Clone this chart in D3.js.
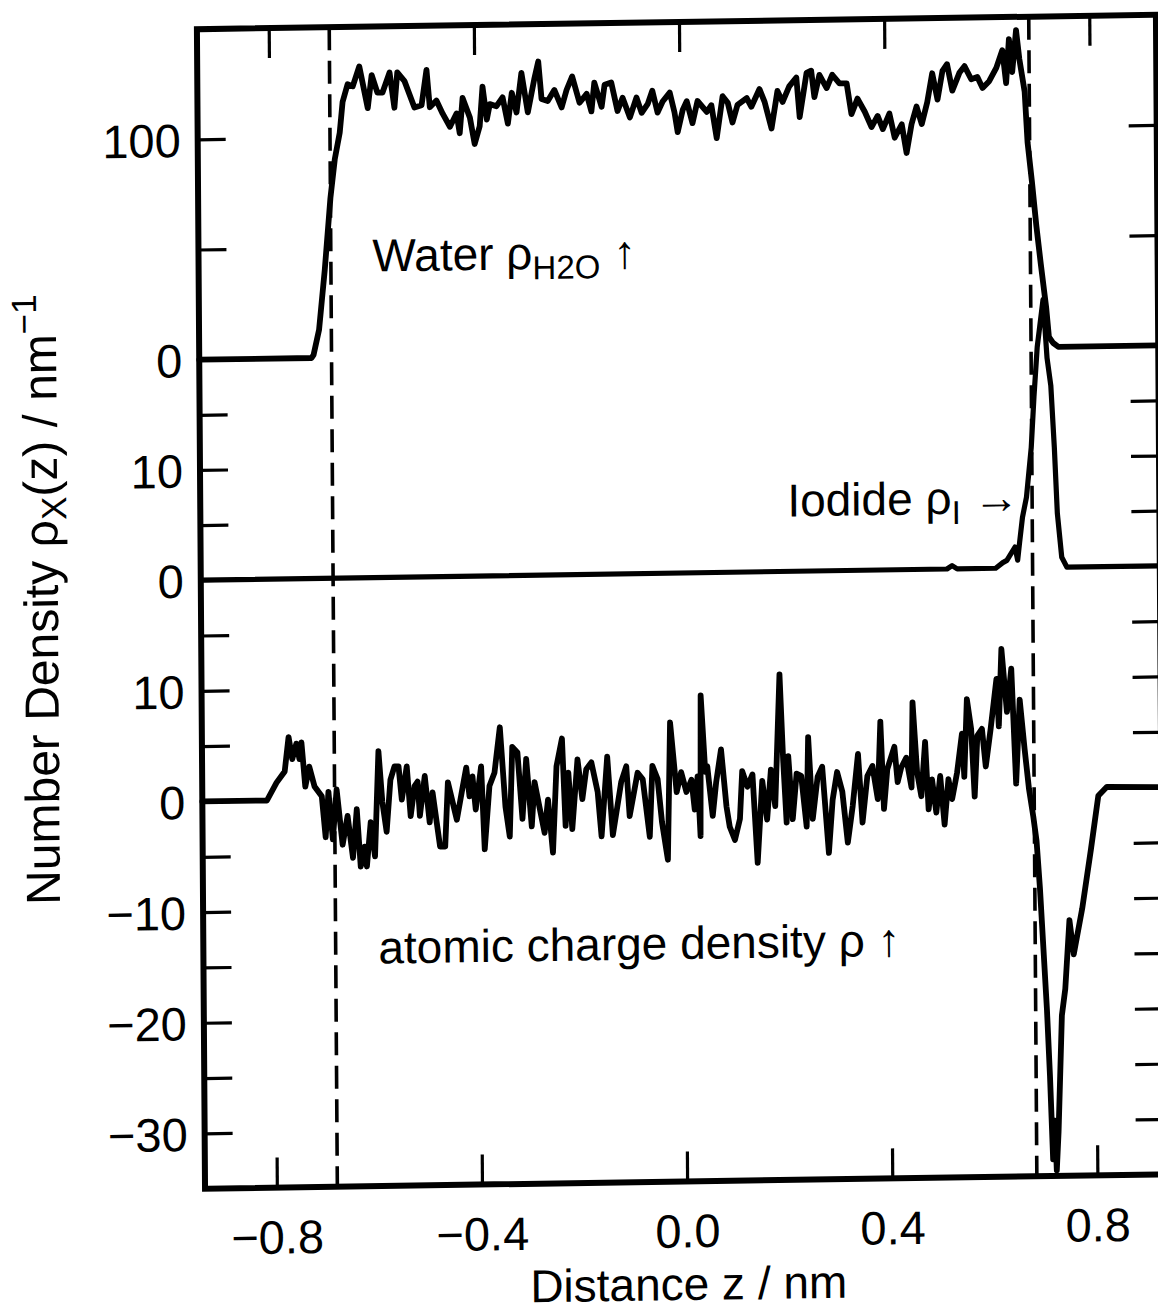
<!DOCTYPE html>
<html>
<head>
<meta charset="utf-8">
<script src="https://cdn.jsdelivr.net/npm/d3@7"></script>
<style>
  body { margin: 0; background: #fff; }
  text { font-family: "Liberation Sans", Arial, Helvetica, sans-serif; fill: #000; }
</style>
</head>
<body>
<div id="chart"></div>
<script>
// profiles, [z (nm), density]
const waterProfile = [
  [-0.94, 0], [-0.721, 0], [-0.717, 1.4], [-0.706, 12.7], [-0.694, 40], [-0.682, 72.5], [-0.673, 90],
  [-0.663, 102], [-0.657, 116], [-0.647, 124], [-0.637, 123], [-0.624, 132], [-0.608, 113], [-0.600, 128],
  [-0.589, 120], [-0.579, 120], [-0.565, 129], [-0.556, 113], [-0.550, 129], [-0.536, 125], [-0.517, 113],
  [-0.503, 114], [-0.493, 130], [-0.487, 113], [-0.474, 116], [-0.462, 110], [-0.448, 104], [-0.435, 110],
  [-0.429, 101], [-0.423, 117], [-0.409, 108], [-0.400, 96], [-0.390, 104], [-0.384, 122], [-0.376, 107],
  [-0.370, 114], [-0.357, 113], [-0.345, 117], [-0.335, 105], [-0.327, 119], [-0.318, 110], [-0.308, 128],
  [-0.296, 110], [-0.283, 125], [-0.275, 133], [-0.269, 116], [-0.257, 115], [-0.244, 120], [-0.230, 112],
  [-0.220, 120], [-0.209, 126], [-0.195, 114], [-0.181, 118], [-0.172, 110], [-0.166, 123], [-0.152, 112],
  [-0.146, 122], [-0.133, 123], [-0.121, 110], [-0.111, 116], [-0.097, 107], [-0.084, 116], [-0.074, 109],
  [-0.062, 113], [-0.053, 119], [-0.043, 109], [-0.033, 114], [-0.019, 118], [-0.010, 109], [-0.004, 100],
  [0.006, 110], [0.014, 114], [0.025, 104], [0.035, 114], [0.053, 109], [0.062, 112], [0.072, 97],
  [0.084, 116], [0.094, 113], [0.103, 104], [0.113, 112], [0.131, 115], [0.140, 111], [0.156, 119],
  [0.166, 113], [0.179, 101], [0.191, 118], [0.201, 113], [0.214, 120], [0.228, 124], [0.234, 106],
  [0.248, 126], [0.257, 127], [0.263, 115], [0.273, 125], [0.287, 119], [0.298, 125], [0.312, 121],
  [0.326, 121], [0.335, 107], [0.347, 114], [0.361, 108], [0.374, 101], [0.386, 106], [0.396, 100],
  [0.409, 107], [0.419, 96], [0.433, 102], [0.442, 89], [0.452, 102], [0.462, 110], [0.472, 102],
  [0.483, 112], [0.493, 125], [0.503, 113], [0.513, 126], [0.522, 129], [0.532, 117], [0.546, 125],
  [0.556, 128], [0.569, 122], [0.581, 123], [0.591, 118], [0.604, 121], [0.618, 127], [0.630, 135],
  [0.637, 120], [0.643, 140], [0.649, 125], [0.657, 144], [0.663, 131], [0.673, 116], [0.678, 93],
  [0.686, 75], [0.694, 55], [0.702, 38], [0.712, 18], [0.717, 4.5], [0.725, 1.8], [0.735, 0], [0.93, 0]
];

const iodideProfile = [
  [-0.94, 0], [0.515, 0], [0.525, 0.3], [0.535, 0], [0.610, 0], [0.624, 0.5], [0.632, 0.7], [0.648, 1.9],
  [0.653, 0.7], [0.657, 2.3], [0.663, 4.6], [0.671, 6.4], [0.681, 10.9], [0.687, 15.5], [0.694, 20],
  [0.706, 24.3], [0.713, 19], [0.720, 16.5], [0.726, 10.9], [0.731, 4.9], [0.739, 0.9], [0.749, 0], [0.93, 0]
];

const chargeProfile = [
  [-0.94, 0], [-0.814, 0], [-0.795, 1.6], [-0.779, 2.6], [-0.771, 5.7], [-0.764, 3.7], [-0.756, 5.1],
  [-0.750, 3.7], [-0.746, 5.2], [-0.739, 1.2], [-0.731, 3.0], [-0.721, 1.2], [-0.707, 0.3], [-0.700, -3.4],
  [-0.694, 0.7], [-0.686, -3.6], [-0.678, 0.9], [-0.667, -4.1], [-0.657, -1.5], [-0.647, -5.3], [-0.639, -0.9],
  [-0.632, -6.1], [-0.624, -4.3], [-0.620, -6.1], [-0.612, -2.1], [-0.604, -5.2], [-0.596, 4.3], [-0.589, -0.3],
  [-0.581, -3.0], [-0.573, 1.7], [-0.565, 2.9], [-0.557, 2.9], [-0.551, -0.1], [-0.541, 2.9], [-0.534, -1.6],
  [-0.526, 1.1], [-0.520, 1.5], [-0.516, -1.6], [-0.506, 2.0], [-0.497, -2.2], [-0.491, 0.5], [-0.477, -4.4],
  [-0.467, -4.4], [-0.461, 1.4], [-0.444, -2.0], [-0.432, 1.0], [-0.425, 2.7], [-0.419, 0.1], [-0.413, 1.9],
  [-0.407, -1.1], [-0.396, 2.8], [-0.390, -4.7], [-0.380, 1.0], [-0.370, 2.2], [-0.359, 6.3], [-0.349, -0.9],
  [-0.341, -3.6], [-0.335, 4.5], [-0.325, 4.0], [-0.316, -2.0], [-0.308, 3.4], [-0.298, -2.7], [-0.292, 1.3],
  [-0.283, -0.9], [-0.273, -3.3], [-0.266, -0.3], [-0.257, -5.1], [-0.249, 2.7], [-0.238, 5.2], [-0.232, -2.7],
  [-0.226, 2.1], [-0.219, -3.0], [-0.208, 3.3], [-0.199, -0.3], [-0.191, 2.4], [-0.181, 3.0], [-0.169, 0.3],
  [-0.162, -3.7], [-0.150, 3.5], [-0.140, -3.6], [-0.123, 1.2], [-0.113, 2.6], [-0.107, -1.9], [-0.091, 2.0],
  [-0.081, 1.4], [-0.068, -3.8], [-0.062, 2.6], [-0.052, 1.4], [-0.044, -2.5], [-0.033, -5.9], [-0.027, 6.5],
  [-0.015, 0.2], [-0.006, 2.0], [0.004, 0.2], [0.014, 1.3], [0.020, -1.4], [0.026, 1.6], [0.031, -3.8],
  [0.033, 8.9], [0.041, 2.0], [0.045, 2.5], [0.055, -2.0], [0.062, 1.0], [0.072, 4.0], [0.082, -1.2],
  [0.088, -3.0], [0.098, -4.2], [0.108, -2.3], [0.113, 2.0], [0.123, 0.6], [0.133, 1.7], [0.142, -6.3],
  [0.152, 1.1], [0.161, -2.4], [0.169, 2.1], [0.177, -1.2], [0.187, 10.7], [0.193, 3.0], [0.199, -2.7],
  [0.203, 3.3], [0.211, -2.4], [0.219, 1.7], [0.228, 1.5], [0.238, -3.1], [0.242, 5.0], [0.250, -2.4],
  [0.260, 1.4], [0.269, 2.3], [0.281, -5.5], [0.289, -0.7], [0.298, 1.8], [0.308, 0], [0.318, -4.6],
  [0.328, -1.3], [0.339, 3.4], [0.347, -2.8], [0.357, 1.4], [0.367, 2.3], [0.377, -0.7], [0.383, 6.3],
  [0.389, -1.6], [0.396, 2.0], [0.410, 4.0], [0.416, 0.8], [0.423, 2.1], [0.433, 3.0], [0.443, 0.3],
  [0.446, 8.0], [0.454, 1.7], [0.462, -0.5], [0.470, 4.4], [0.476, -1.7], [0.483, 1.0], [0.491, -2.0],
  [0.499, 1.3], [0.507, -3.1], [0.515, 1.0], [0.522, -0.8], [0.532, 1.6], [0.542, 5.1], [0.546, 1.2],
  [0.552, 8.2], [0.560, 5.5], [0.566, -0.6], [0.572, 4.9], [0.581, 5.5], [0.588, 2.1], [0.598, 5.5],
  [0.610, 10.0], [0.614, 5.7], [0.620, 12.7], [0.630, 7.0], [0.639, 10.9], [0.647, 0.5], [0.655, 8.1],
  [0.664, 3.6], [0.672, 0], [0.680, -2.5], [0.686, -4.7], [0.692, -9.0], [0.698, -14.5], [0.704, -20],
  [0.709, -26], [0.714, -33.5], [0.718, -30], [0.721, -34.5], [0.725, -31], [0.733, -20.5], [0.740, -18.1],
  [0.749, -11.9], [0.757, -15.0], [0.774, -10.9], [0.792, -5.5], [0.807, -0.7], [0.824, 0.1], [0.93, 0]
];

const xTicks = [-0.8, -0.4, 0, 0.4, 0.8];
const waterTicks = [0, 50, 100];
const waterLabels = [0, 100];
const iodideTicks = [0, 5, 10, 15];
const iodideLabels = [0, 10];
const chargeTicks = [15, 10, 5, 0, -5, -10, -15, -20, -25, -30];
const chargeLabels = [10, 0, -10, -20, -30];
const interfaceZ = [-0.682, 0.682];

const width = 1158;
const height = 1314;
const plotLeft = 201, plotRight = 1160, plotTop = 22, plotBottom = 1181.5;

const svg = d3.select('#chart')
  .append('svg')
    .attr('width', width)
    .attr('height', height);

// the scan is slightly skewed, keep that
const g = svg.append('g')
  .attr('transform', 'matrix(1,-0.015,0.007,1,-4.235,10.2)');

const x = d3.scaleLinear().domain([-0.94, 0.93]).range([plotLeft, plotRight]);
const yWater = d3.scaleLinear().domain([0, 150]).range([352.5, plotTop]);
const yIodide = d3.scaleLinear().domain([0, 20]).range([573, 352.5]);
const yCharge = d3.scaleLinear().domain([-35, 20]).range([plotBottom, 573]);

const fmtInt = d3.format('d');

function styleAxis(sel) {
  sel.select('.domain').remove();
  sel.selectAll('.tick line').attr('stroke', '#000').attr('stroke-width', 3.2);
  sel.selectAll('text').style('font-size', '47px');
}

// x axes (inner ticks top and bottom)
const xb = g.append('g')
  .attr('transform', 'translate(0,' + plotBottom + ')')
  .call(d3.axisBottom(x).tickValues(xTicks).tickSize(-30).tickFormat(d3.format('.1f')));
styleAxis(xb);
xb.selectAll('text')
  .attr('y', 66).attr('dy', 0)
  .style('font-size', '47px');

const xt = g.append('g')
  .attr('transform', 'translate(0,' + plotTop + ')')
  .call(d3.axisTop(x).tickValues(xTicks).tickSize(-30).tickFormat(''));
styleAxis(xt);

// y axes, one scale per panel
const panels = [
  [yWater, waterTicks, waterLabels],
  [yIodide, iodideTicks, iodideLabels],
  [yCharge, chargeTicks, chargeLabels]
];
panels.forEach(([scale, ticks, labels]) => {
  const ay = g.append('g')
    .attr('transform', 'translate(' + plotLeft + ',0)')
    .call(d3.axisLeft(scale).tickValues(ticks).tickSize(-28).tickPadding(17)
      .tickFormat(d => labels.includes(d) ? fmtInt(d) : ''));
  styleAxis(ay);
  ay.selectAll('text').attr('dy', '0.36em');
  const ar = g.append('g')
    .attr('transform', 'translate(' + plotRight + ',0)')
    .call(d3.axisRight(scale).tickValues(ticks).tickSize(-28).tickFormat(''));
  styleAxis(ar);
});

// interface positions
g.selectAll('.iface')
  .data(interfaceZ)
  .join('line')
    .attr('class', 'iface')
    .attr('x1', d => x(d)).attr('x2', d => x(d))
    .attr('y1', plotTop).attr('y2', plotBottom)
    .attr('stroke', '#000')
    .attr('stroke-width', 3.6)
    .attr('stroke-dasharray', '23 10.5');

// curves
const series = [
  [waterProfile, yWater, 5.8],
  [iodideProfile, yIodide, 5.2],
  [chargeProfile, yCharge, 5.8]
];
series.forEach(([data, scale, w]) => {
  g.append('path')
    .datum(data)
    .attr('fill', 'none')
    .attr('stroke', '#000')
    .attr('stroke-width', w)
    .attr('stroke-linejoin', 'round')
    .attr('stroke-linecap', 'round')
    .attr('d', d3.line().x(d => x(d[0])).y(d => scale(d[1])));
});

// frame
g.append('rect')
  .attr('x', plotLeft).attr('y', plotTop)
  .attr('width', plotRight - plotLeft).attr('height', plotBottom - plotTop)
  .attr('fill', 'none')
  .attr('stroke', '#000')
  .attr('stroke-width', 6);

// annotations
const waterNote = g.append('text').attr('x', 375).attr('y', 267).style('font-size', '46px');
waterNote.append('tspan').text('Water ρ');
waterNote.append('tspan').attr('dy', 10).style('font-size', '33px').text('H2O');
waterNote.append('tspan').attr('dy', -10).text(' ↑');

const iodideNote = g.append('text').attr('x', 788).attr('y', 518).style('font-size', '46px');
iodideNote.append('tspan').text('Iodide ρ');
iodideNote.append('tspan').attr('dy', 10).style('font-size', '33px').text('I');
iodideNote.append('tspan').attr('dy', -10).text(' →');

g.append('text')
  .attr('x', 376).attr('y', 959)
  .style('font-size', '46px')
  .text('atomic charge density ρ ↑');

// axis titles
g.append('text')
  .attr('x', 684).attr('y', 1300)
  .attr('text-anchor', 'middle')
  .style('font-size', '46px')
  .text('Distance z / nm');

const yTitle = g.append('text')
  .attr('transform', 'translate(58,590) rotate(-90)')
  .attr('text-anchor', 'middle')
  .style('font-size', '48px');
yTitle.append('tspan').text('Number Density ρ');
yTitle.append('tspan').attr('dy', 9).style('font-size', '35px').text('X');
yTitle.append('tspan').attr('dy', -9).text('(z) / nm');
yTitle.append('tspan').attr('dy', -20).style('font-size', '35px').text('−1');
</script>
</body>
</html>
